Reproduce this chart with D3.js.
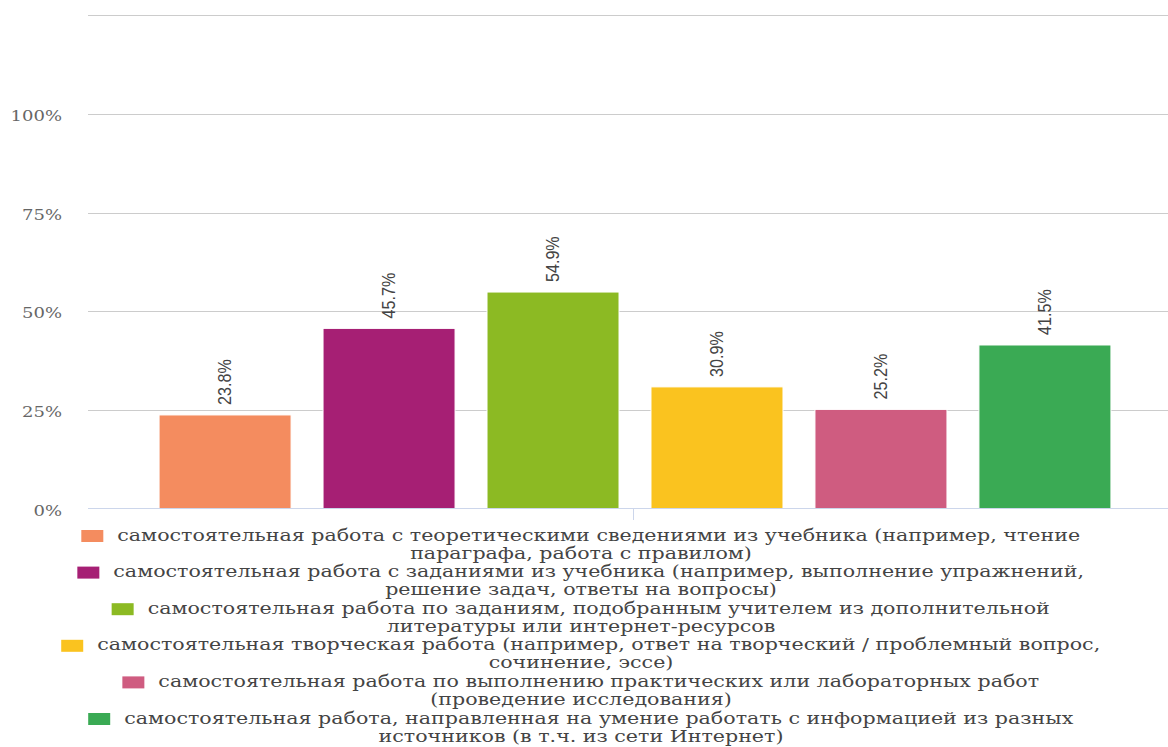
<!DOCTYPE html>
<html>
<head>
<meta charset="utf-8">
<script src="https://cdn.jsdelivr.net/npm/d3@7"></script>
<style>
  html, body { margin: 0; padding: 0; background: #fff; }
  svg { display: block; }
</style>
</head>
<body>
<svg id="chart" width="1168" height="747"></svg>
<script>
// ---- data ----
const seriesNames = [
  ["самостоятельная работа с теоретическими сведениями из учебника (например, чтение", "параграфа, работа с правилом)"],
  ["самостоятельная работа с заданиями из учебника (например, выполнение упражнений,", "решение задач, ответы на вопросы)"],
  ["самостоятельная работа по заданиям, подобранным учителем из дополнительной", "литературы или интернет-ресурсов"],
  ["самостоятельная творческая работа (например, ответ на творческий / проблемный вопрос,", "сочинение, эссе)"],
  ["самостоятельная работа по выполнению практических или лабораторных работ", "(проведение исследования)"],
  ["самостоятельная работа, направленная на умение работать с информацией из разных", "источников (в т.ч. из сети Интернет)"]
];
const seriesValues = [23.8, 45.7, 54.9, 30.9, 25.2, 41.5];
const seriesColors = ["#f48c5f", "#a61f74", "#8cba23", "#fac31f", "#cf5c80", "#3aaa54"];
const gridValues = [0, 25, 50, 75, 100, 125];
const tickLabels = ["0%", "25%", "50%", "75%", "100%"];

// ---- layout ----
const svg = d3.select("#chart");
const SY = 0.85; // vertical squeeze of text
const LX = 1.03; // legend horizontal stretch
const plotLeft = 88, plotRight = 1168;
const y = d3.scaleLinear().domain([0, 125]).range([509, 15]);
const x = d3.scaleBand().domain(d3.range(seriesValues.length))
  .range([143, 1127]).paddingInner(0.195).paddingOuter(0.098);

// gridlines
svg.append("g").selectAll("line").data(gridValues.slice(1)).join("line")
  .attr("x1", plotLeft).attr("x2", plotRight)
  .attr("y1", d => Math.round(y(d)) + 0.5).attr("y2", d => Math.round(y(d)) + 0.5)
  .attr("stroke", "#cccccc").attr("stroke-width", 1);

// y labels
svg.append("g").selectAll("text").data(tickLabels).join("text")
  .attr("transform", (d, i) => `translate(62,${y(gridValues[i]) + 7}) scale(1,${SY})`)
  .attr("text-anchor", "end")
  .attr("font-family", "DejaVu Serif")
  .attr("font-size", 18)
  .attr("fill", "#666666")
  .text(d => d);

// bars
svg.append("g").selectAll("rect").data(seriesValues).join("rect")
  .attr("x", (d, i) => x(i)).attr("width", x.bandwidth())
  .attr("y", d => y(d)).attr("height", d => y(0) - y(d))
  .attr("fill", (d, i) => seriesColors[i])
  .attr("stroke", "#ffffff").attr("stroke-width", 1);

// baseline + tick
svg.append("line").attr("x1", plotLeft).attr("x2", plotRight)
  .attr("y1", Math.round(y(0)) - 0.5).attr("y2", Math.round(y(0)) - 0.5)
  .attr("stroke", "#ccd6eb").attr("stroke-width", 1);
svg.append("line").attr("x1", 633.5).attr("x2", 633.5)
  .attr("y1", y(0)).attr("y2", y(0) + 11)
  .attr("stroke", "#ccd6eb").attr("stroke-width", 1);

// bar labels
svg.append("g").selectAll("text").data(seriesValues).join("text")
  .attr("transform", (d, i) => `translate(${x(i) + x.bandwidth() / 2},${y(d) - 10}) scale(0.95,${SY}) rotate(-90)`)
  .attr("dy", "0.35em")
  .attr("text-anchor", "start")
  .attr("font-family", "Liberation Sans, Arial, sans-serif")
  .attr("font-size", 19)
  .attr("fill", "#444444")
  .text(d => d.toFixed(1) + "%");

// legend
const C = 581;
const legend = svg.append("g");
seriesNames.forEach((lines, i) => {
  const cy = 536 + i * 36.6;
  const t1 = legend.append("text")
    .attr("font-family", "DejaVu Serif").attr("font-size", 20).attr("fill", "#444444")
    .text(lines[0]);
  const w1 = t1.node().getComputedTextLength() * LX;
  const start = C - (36 + w1) / 2;
  t1.attr("transform", `translate(${start + 36},${cy + 4.5}) scale(${LX},${SY})`);
  legend.append("rect")
    .attr("x", start).attr("y", cy - 6).attr("width", 22).attr("height", 12)
    .attr("fill", seriesColors[i]);
  legend.append("text")
    .attr("font-family", "DejaVu Serif").attr("font-size", 20).attr("fill", "#444444")
    .attr("text-anchor", "middle")
    .attr("transform", `translate(${C},${cy + 18 + 4.5}) scale(${LX},${SY})`)
    .text(lines[1]);
});
</script>
</body>
</html>
